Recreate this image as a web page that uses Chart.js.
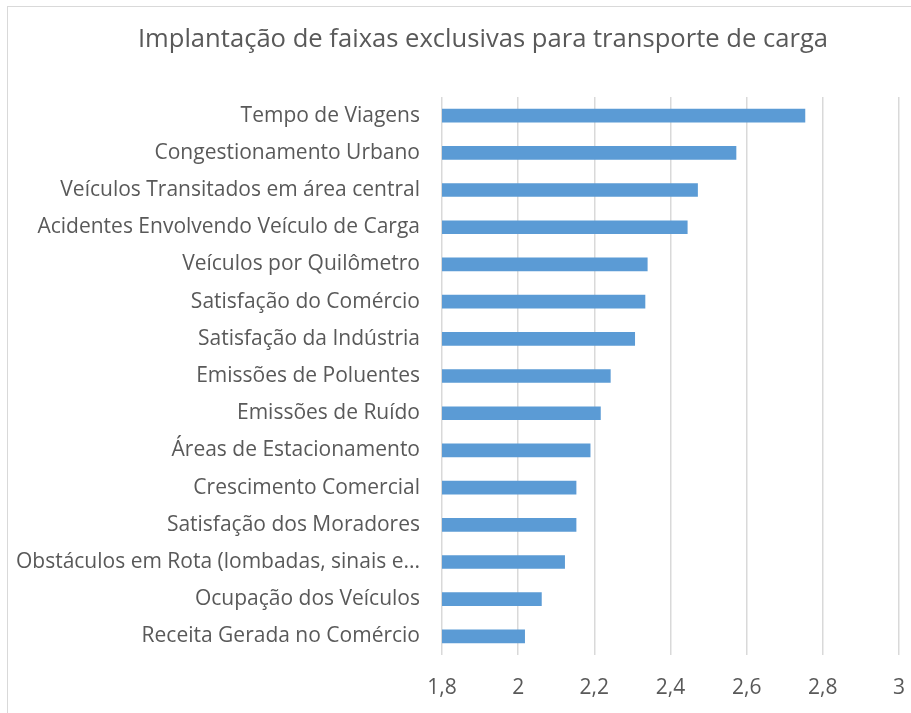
<!DOCTYPE html>
<html>
<head>
<meta charset="utf-8">
<script src="https://cdn.jsdelivr.net/npm/chart.js@4"></script>
<style>
  html, body { margin: 0; padding: 0; background: #fff; }
  #wrap { position: relative; width: 911px; height: 713px; overflow: hidden; }
  #frame { position: absolute; left: 7px; top: 6px; width: 920px; height: 720px;
           border-left: 1px solid #d9d9d9; border-top: 1px solid #d9d9d9; box-sizing: border-box; }
  canvas { position: absolute; left: 0; top: 0; }
</style>
</head>
<body>
<div id="wrap">
  <div id="frame"></div>
  <canvas id="c" width="911" height="713"></canvas>
</div>
<script>
const titleText = 'Implantação de faixas exclusivas para transporte de carga';

const categories = [
  'Tempo de Viagens',
  'Congestionamento Urbano',
  'Veículos Transitados em área central',
  'Acidentes Envolvendo Veículo de Carga',
  'Veículos por Quilômetro',
  'Satisfação do Comércio',
  'Satisfação da Indústria',
  'Emissões de Poluentes',
  'Emissões de Ruído',
  'Áreas de Estacionamento',
  'Crescimento Comercial',
  'Satisfação dos Moradores',
  'Obstáculos em Rota (lombadas, sinais e...',
  'Ocupação dos Veículos',
  'Receita Gerada no Comércio'
];

const values = [2.753, 2.572, 2.471, 2.444, 2.339, 2.333, 2.306, 2.242, 2.216, 2.189, 2.152, 2.152, 2.122, 2.061, 2.017];

const xTickLabels = ['1,8', '2', '2,2', '2,4', '2,6', '2,8', '3'];
const xMin = 1.8, xMax = 3, xStep = 0.2;

const FONT = "'Open Sans', 'Noto Sans', sans-serif";
const TEXT = '#595959';

new Chart(document.getElementById('c'), {
  type: 'bar',
  data: {
    labels: categories,
    datasets: [{
      data: values,
      backgroundColor: '#5b9bd5',
      borderWidth: 0,
      barThickness: 13
    }]
  },
  options: {
    indexAxis: 'y',
    responsive: false,
    animation: false,
    layout: { padding: { left: 67, right: 12, top: 0, bottom: 0 } },
    plugins: {
      legend: { display: false },
      tooltip: { enabled: false },
      title: {
        display: true,
        text: titleText,
        color: TEXT,
        font: { family: FONT, size: 25.6, weight: 'normal', lineHeight: 1.2 },
        padding: { top: 24.7, bottom: 41.6 }
      }
    },
    scales: {
      x: {
        type: 'linear',
        min: xMin,
        max: xMax,
        ticks: {
          stepSize: xStep,
          color: TEXT,
          font: { family: FONT, size: 21 },
          padding: 20,
          maxRotation: 0,
          callback: (v, i) => xTickLabels[i]
        },
        grid: { color: '#d9d9d9', lineWidth: 1.5, drawTicks: false },
        border: { display: false },
        afterFit: (s) => { s.height = 58; s.paddingLeft = 0; s.paddingRight = 0; }
      },
      y: {
        ticks: {
          color: TEXT,
          font: { family: FONT, size: 21 },
          padding: 22,
          autoSkip: false
        },
        grid: { display: false, drawTicks: false },
        border: { display: false },
        afterFit: (s) => {
          s.width = 442 - 67;
          s.paddingTop = 0; s.paddingBottom = 0;
          s._computeLabelArea = () => undefined;
        }
      }
    }
  }
});
</script>
</body>
</html>
